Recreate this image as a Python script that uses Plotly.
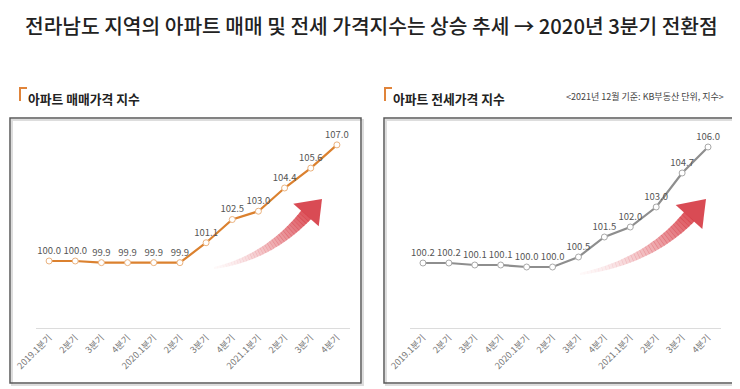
import plotly.graph_objects as go

W, H = 740, 389
OFF = 8  # default page body margin
FW, FH = W - OFF, H - OFF

# ---- data ----
quarters = ["2019.1분기", "2분기", "3분기", "4분기",
            "2020.1분기", "2분기", "3분기", "4분기",
            "2021.1분기", "2분기", "3분기", "4분기"]
sale_index = [100.0, 100.0, 99.9, 99.9, 99.9, 99.9, 101.1, 102.5, 103.0, 104.4, 105.6, 107.0]
jeonse_index = [100.2, 100.2, 100.1, 100.1, 100.0, 100.0, 100.5, 101.5, 102.0, 103.0, 104.7, 106.0]

title_text = "전라남도 지역의 아파트 매매 및 전세 가격지수는 상승 추세 → 2020년 3분기 전환점"
left_title = "아파트 매매가격 지수"
right_title = "아파트 전세가격 지수"
note_text = "<2021년 12월 기준: KB부동산 단위, 지수>"

FONT = "Noto Sans CJK KR"


def px(x):
    return (x - OFF) / FW


def py(y):
    return 1 - (y - OFF) / FH


xs = list(range(len(quarters)))
fig = go.Figure()

fig.add_trace(go.Scatter(
    x=xs, y=sale_index, mode="lines+markers+text",
    text=[f"{v:.1f}" for v in sale_index], textposition="top center",
    textfont=dict(family=FONT, size=9.5, color="#555555"),
    line=dict(color="#DB812F", width=2.2),
    marker=dict(size=6, color="white", line=dict(color="#EBB27E", width=1)),
    xaxis="x", yaxis="y", cliponaxis=False, showlegend=False, hoverinfo="skip"))

fig.add_trace(go.Scatter(
    x=xs, y=jeonse_index, mode="lines+markers+text",
    text=[f"{v:.1f}" for v in jeonse_index], textposition="top center",
    textfont=dict(family=FONT, size=9.5, color="#555555"),
    line=dict(color="#8E8E8E", width=2.2),
    marker=dict(size=6, color="white", line=dict(color="#A8A8A8", width=1)),
    xaxis="x2", yaxis="y2", cliponaxis=False, showlegend=False, hoverinfo="skip"))

xaxis_common = dict(
    tickmode="array", tickvals=xs, ticktext=quarters, tickangle=-45,
    tickfont=dict(family=FONT, size=9, color="#777777"),
    showline=True, linecolor="#DCDCDC", linewidth=1, automargin=False,
    showgrid=False, zeroline=False, ticks="", range=[-0.5, 11.5], fixedrange=True)

fig.update_layout(
    width=FW, height=FH, margin=dict(l=0, r=0, t=0, b=0, autoexpand=False),
    paper_bgcolor="white", plot_bgcolor="rgba(0,0,0,0)",
    font=dict(family=FONT),
    xaxis=dict(domain=[px(36), px(350)], anchor="y", **xaxis_common),
    yaxis=dict(domain=[py(328), py(120)], range=[95.96, 108.5], visible=False, anchor="x"),
    xaxis2=dict(domain=[px(410), px(721)], anchor="y2", **xaxis_common),
    yaxis2=dict(domain=[py(328), py(120)], range=[96.95, 107.35], visible=False, anchor="x2"),
)

shapes = []
# panel boxes
for x0, x1 in [(10, 361), (384, 733)]:
    shapes.append(dict(type="rect", xref="paper", yref="paper",
                       x0=px(x0 + 2), x1=px(x1 + 2), y0=py(385), y1=py(120),
                       line=dict(color="#DDDDDD", width=2), fillcolor="rgba(0,0,0,0)", layer="below"))
    shapes.append(dict(type="rect", xref="paper", yref="paper",
                       x0=px(x0), x1=px(x1), y0=py(383), y1=py(118),
                       line=dict(color="#5A5A5A", width=1.5), fillcolor="rgba(0,0,0,0)", layer="below"))

# title bracket icons
for bx in [20, 385]:
    shapes.append(dict(type="path", xref="paper", yref="paper",
                       path=f"M {px(bx)},{py(101)} L {px(bx)},{py(88)} L {px(bx + 7)},{py(88)}",
                       line=dict(color="#E0843A", width=2)))


def arrow(p0, c, p2, tip, half_head, max_w, n=36):
    out = []

    def bez(t):
        return ((1 - t) ** 2 * p0[0] + 2 * (1 - t) * t * c[0] + t ** 2 * p2[0],
                (1 - t) ** 2 * p0[1] + 2 * (1 - t) * t * c[1] + t ** 2 * p2[1])

    def deriv(t):
        return (2 * (1 - t) * (c[0] - p0[0]) + 2 * t * (p2[0] - c[0]),
                2 * (1 - t) * (c[1] - p0[1]) + 2 * t * (p2[1] - c[1]))

    def edge(t):
        x, y = bez(t)
        dx, dy = deriv(t)
        L = (dx * dx + dy * dy) ** 0.5
        nx, ny = -dy / L, dx / L
        w = max_w * (0.15 + 0.85 * t) / 2
        return (x + nx * w, y + ny * w), (x - nx * w, y - ny * w)

    for i in range(n):
        t0, t1 = i / n, (i + 1) / n
        a0, b0 = edge(t0)
        a1, b1 = edge(t1 + 0.004)
        op = 0.03 + 0.8 * ((t0 + t1) / 2) ** 1.5
        path = (f"M {px(a0[0])},{py(a0[1])} L {px(a1[0])},{py(a1[1])} "
                f"L {px(b1[0])},{py(b1[1])} L {px(b0[0])},{py(b0[1])} Z")
        out.append(dict(type="path", xref="paper", yref="paper", path=path,
                        fillcolor=f"rgba(214,52,62,{op:.3f})", line=dict(width=0)))
    dx, dy = deriv(1)
    L = (dx * dx + dy * dy) ** 0.5
    nx, ny = -dy / L, dx / L
    h1 = (p2[0] + nx * half_head, p2[1] + ny * half_head)
    h2 = (p2[0] - nx * half_head, p2[1] - ny * half_head)
    path = (f"M {px(h1[0])},{py(h1[1])} L {px(tip[0])},{py(tip[1])} "
            f"L {px(h2[0])},{py(h2[1])} Z")
    out.append(dict(type="path", xref="paper", yref="paper", path=path,
                    fillcolor="rgba(212,50,60,0.88)", line=dict(width=0)))
    return out


shapes += arrow((214, 268), (268, 258), (306, 215), (322, 199), 17, 13)
shapes += arrow((580, 274), (648, 262), (689, 217), (706, 199), 18, 14)

fig.update_layout(shapes=shapes)

annotations = [
    dict(text=title_text, x=px(371), y=py(25), xref="paper", yref="paper",
         showarrow=False, xanchor="center", yanchor="middle",
         font=dict(family=FONT, size=20.3, color="#222222", weight=500)),
    dict(text=f"<b>{left_title}</b>", x=px(26), y=py(98), xref="paper", yref="paper",
         showarrow=False, xanchor="left", yanchor="middle",
         font=dict(family=FONT, size=12.8, color="#222222")),
    dict(text=f"<b>{right_title}</b>", x=px(391), y=py(98), xref="paper", yref="paper",
         showarrow=False, xanchor="left", yanchor="middle",
         font=dict(family=FONT, size=12.8, color="#222222")),
    dict(text=note_text, x=px(726), y=py(97), xref="paper", yref="paper",
         showarrow=False, xanchor="right", yanchor="middle",
         font=dict(family=FONT, size=9, color="#444444")),
]
fig.update_layout(annotations=annotations)

fig.write_html("out.html")
